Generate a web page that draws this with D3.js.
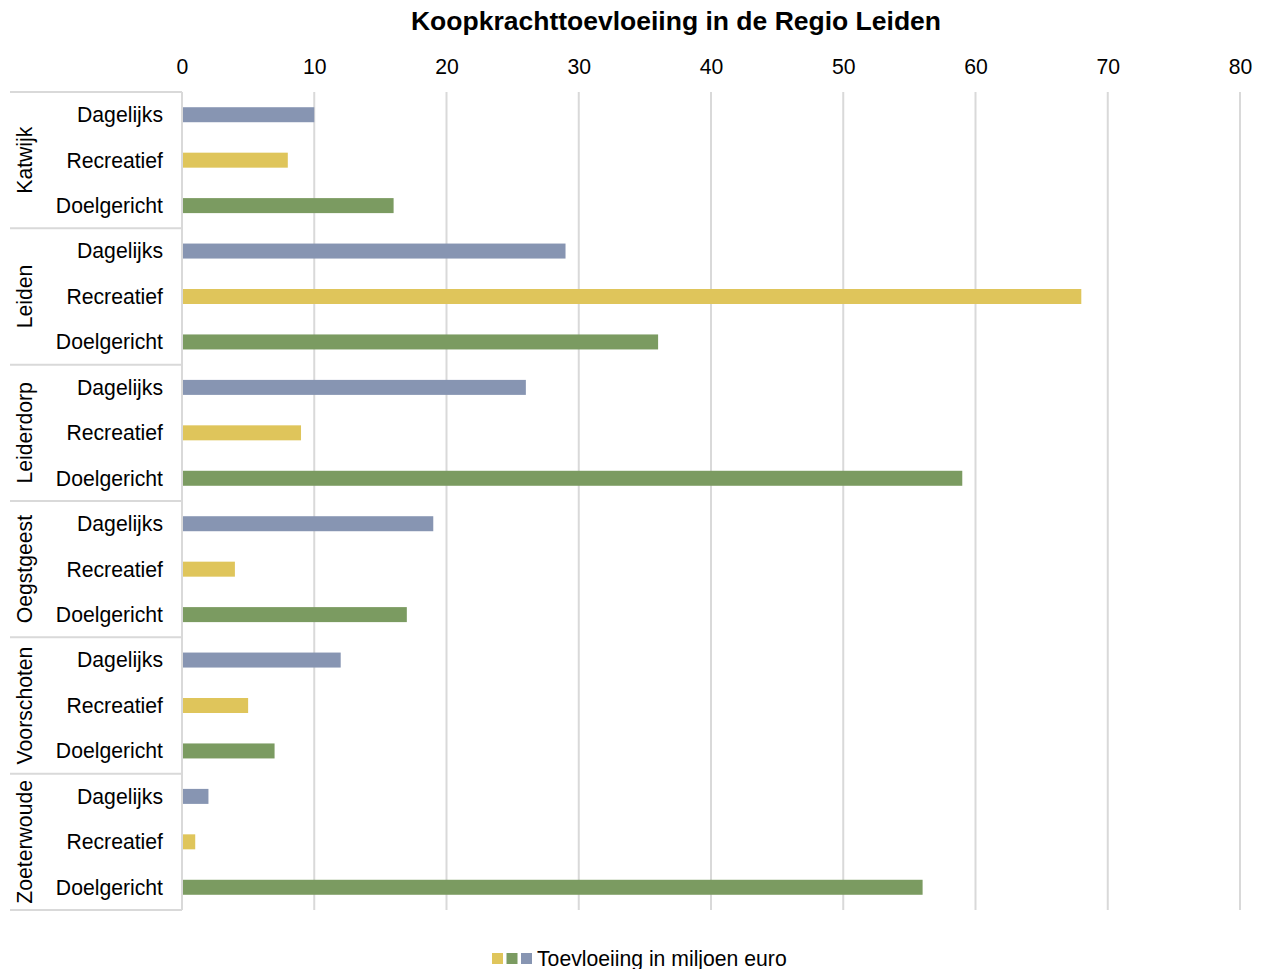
<!DOCTYPE html>
<html><head><meta charset="utf-8">
<script src="https://cdn.jsdelivr.net/npm/d3@7/dist/d3.min.js"></script>
<style>body{margin:0;background:#fff}svg{display:block}text{font-family:"Liberation Sans",Arial,sans-serif}</style>
</head><body>
<script>
const groups = ["Katwijk","Leiden","Leiderdorp","Oegstgeest","Voorschoten","Zoeterwoude"];
const categories = ["Dagelijks","Recreatief","Doelgericht"];
const dagelijks   = [10, 29, 26, 19, 12, 2];
const recreatief  = [8, 68, 9, 4, 5, 1];
const doelgericht = [16, 36, 59, 17, 7, 56];
const xTicks = [0,10,20,30,40,50,60,70,80];
const colors = {Dagelijks:"#8795b2", Recreatief:"#dfc55b", Doelgericht:"#7b9b61"};
const title = "Koopkrachttoevloeiing in de Regio Leiden";
const legendLabel = "Toevloeiing in miljoen euro";

(function(){
const W=1261,H=969;
const pL=182,pR=1240,pT=92,pB=910;
const FS=21.2;
const svg=d3.select("body").append("svg").attr("width",W).attr("height",H);

const rows=[];
groups.forEach((g,i)=>{
  rows.push({g,c:"Dagelijks",v:dagelijks[i]});
  rows.push({g,c:"Recreatief",v:recreatief[i]});
  rows.push({g,c:"Doelgericht",v:doelgericht[i]});
});
const x=d3.scaleLinear().domain([0,80]).range([pL,pR]);
const y=d3.scaleBand().domain(rows.map((d,i)=>i)).range([pT,pB]);

// gridlines
svg.append("g").selectAll("line").data(xTicks).join("line")
  .attr("x1",d=>x(d)).attr("x2",d=>x(d)).attr("y1",pT).attr("y2",pB)
  .attr("stroke","#d9d9d9").attr("stroke-width",2);

// top axis labels
const ax=svg.append("g").attr("transform",`translate(0,${pT})`)
  .call(d3.axisTop(x).tickValues(xTicks).tickSize(0).tickPadding(18));
ax.select(".domain").remove();
ax.selectAll("text").attr("font-size",FS).attr("fill","#000").style("font-family","'Liberation Sans',Arial,sans-serif");

// bars
const bh=15;
svg.append("g").selectAll("rect").data(rows).join("rect")
  .attr("x",x(0)+1).attr("y",(d,i)=>y(i)+y.bandwidth()/2-bh/2)
  .attr("width",d=>x(d.v)-x(0)-1).attr("height",bh)
  .attr("fill",d=>colors[d.c]);

// axis line
svg.append("line").attr("x1",pL).attr("x2",pL).attr("y1",pT).attr("y2",pB)
  .attr("stroke","#d9d9d9").attr("stroke-width",2);

// category labels
svg.append("g").selectAll("text").data(rows).join("text")
  .attr("x",163).attr("y",(d,i)=>y(i)+y.bandwidth()/2).attr("dy","0.35em")
  .attr("text-anchor","end").attr("font-size",FS).attr("fill","#000").text(d=>d.c);

// group separators
const gb=d3.range(groups.length+1).map(i=>pT+i*3*y.step());
svg.append("g").selectAll("line").data(gb).join("line")
  .attr("x1",10).attr("x2",pL).attr("y1",d=>d).attr("y2",d=>d)
  .attr("stroke","#d9d9d9").attr("stroke-width",2);

// group labels
svg.append("g").selectAll("text").data(groups).join("text")
  .attr("transform",(d,i)=>`translate(25,${pT+(i*3+1.5)*y.step()}) rotate(-90)`)
  .attr("dy","0.35em").attr("text-anchor","middle").attr("font-size",FS).attr("fill","#000").text(d=>d);

// title
svg.append("text").attr("x",676).attr("y",30).attr("text-anchor","middle")
  .attr("font-size",26.5).attr("font-weight","bold").text(title);

// legend
const lc=["Recreatief","Doelgericht","Dagelijks"];
svg.append("g").selectAll("rect").data(lc).join("rect")
  .attr("x",(d,i)=>492+i*14.5).attr("y",953).attr("width",11).attr("height",11)
  .attr("fill",d=>colors[d]);
svg.append("text").attr("x",537).attr("y",966).attr("font-size",FS).attr("fill","#000").text(legendLabel);
})();
</script>
</body></html>
